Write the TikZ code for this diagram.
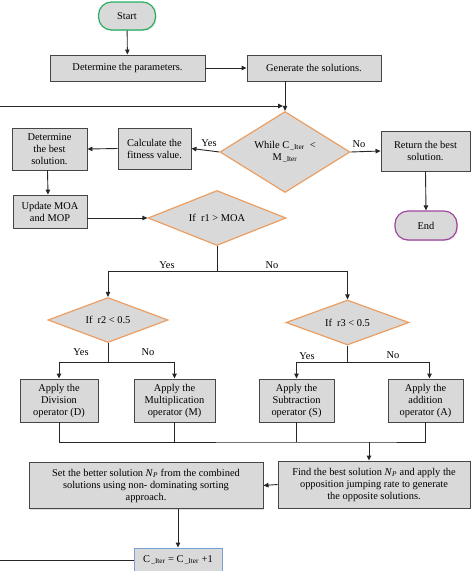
\documentclass[tikz,border=0pt]{standalone}
\usepackage{fontspec}
\setmainfont{Liberation Serif}
\usetikzlibrary{shapes.geometric,arrows.meta,shadows}
\definecolor{boxfill}{RGB}{217,217,217}
\definecolor{boxline}{RGB}{70,70,70}
\definecolor{decline}{RGB}{236,158,98}
\definecolor{startline}{RGB}{40,175,95}
\definecolor{endline}{RGB}{160,70,160}
\definecolor{iterline}{RGB}{120,160,210}
\newcommand{\subiter}{\textsubscript{\,\_Iter}}
\newcommand{\np}{\textit{N}\textsubscript{\textit{P}}}

\begin{document}
\begin{tikzpicture}[x=1pt,y=-1pt]
		\tikzstyle{every node}+=[inner sep=0pt, font=\fontsize{10.4}{12}\selectfont]
		\tikzstyle{box}=[draw=boxline, fill=boxfill, line width=0.9pt, align=center, drop shadow={opacity=0.25, shadow xshift=1pt, shadow yshift=-1pt}]
		\tikzstyle{term}=[box, rounded corners=13pt, line width=1.2pt]
		\tikzstyle{decision}=[diamond, draw=decline, fill=boxfill, line width=1.2pt, align=center, aspect=2]
		\tikzstyle{flow}=[draw=black!85, line width=0.9pt]
		\tikzstyle{arrow}=[flow, -{Triangle[length=5pt,width=4.5pt]}]
		\useasboundingbox (0,0) rectangle (474,571);
		\node[term, draw=startline, minimum width=57pt, minimum height=28pt] (start) at (127,16) {Start};
		\node[box, minimum width=155pt, minimum height=26pt] (param) at (127.5,68) {Determine the parameters.};
		\node[box, minimum width=134pt, minimum height=26pt] (gen) at (314,68) {Generate the solutions.};
		\node[decision, minimum width=130pt, minimum height=81pt] (while) at (285,152) {While C\subiter\ \ <\\M\subiter};
		\node[box, minimum width=73pt, minimum height=41pt] (calc) at (154.5,148.5) {Calculate the\\fitness value.};
		\node[box, minimum width=75pt, minimum height=42pt] (best) at (49.5,149) {Determine\\the best\\solution.};
		\node[box, minimum width=89pt, minimum height=40pt] (ret) at (425.5,151) {Return the best\\solution.};
		\node[term, draw=endline, minimum width=62pt, minimum height=29pt] (end) at (426,225.5) {End};
		\node[box, minimum width=74pt, minimum height=33pt] (update) at (50,211.5) {Update MOA\\and MOP};
		\node[decision, minimum width=138pt, minimum height=55pt] (rone) at (217,218) {If \ r1 > MOA};
		\node[decision, minimum width=120pt, minimum height=45pt] (rtwo) at (108,320) {If \ r2 < 0.5};
		\node[decision, minimum width=123pt, minimum height=45pt] (rthree) at (347.5,322.5) {If \ r3 < 0.5};
		\node[box, minimum width=78pt, minimum height=43pt] (div) at (59,400.5) {Apply the\\Division\\operator (D)};
		\node[box, minimum width=81pt, minimum height=43pt] (mul) at (174.5,400.5) {Apply the\\Multiplication\\operator (M)};
		\node[box, minimum width=75pt, minimum height=43pt] (sub) at (296.5,400.5) {Apply the\\Subtraction\\operator (S)};
		\node[box, minimum width=75pt, minimum height=43pt] (add) at (425.5,400.5) {Apply the\\addition\\operator (A)};
		\node[box, minimum width=192pt, minimum height=47pt] (find) at (374,484.5) {Find the best solution \np\ and apply the\\opposition jumping rate to generate\\the opposite solutions.};
		\node[box, minimum width=234pt, minimum height=46pt] (set) at (146,485.5) {Set the better solution \np\ from the combined\\solutions using non- dominating sorting\\approach.};
		\node[box, draw=iterline, minimum width=88pt, minimum height=24pt] (citer) at (178,560) {C\subiter\ = C\subiter\ +1};
		\node (yesw) at (209,143) {Yes};
		\node (now) at (359,144) {No};
		\node (yesa) at (167,265) {Yes};
		\node (noa) at (272,265) {No};
		\node (yesb) at (81,352) {Yes};
		\node (nob) at (148,352) {No};
		\node (yesc) at (307,356) {Yes};
		\node (noc) at (393,355) {No};
		\coordinate (join) at (283,106);
		\coordinate (looptop) at (-0.2,106);
		\coordinate (splita) at (217,271);
		\coordinate (splitb) at (108,362);
		\coordinate (splitc) at (347.5,362);
		\coordinate (merge) at (369,442);
		\draw[arrow] (start) -- (param);
		\draw[arrow] (param) -- (gen);
		\draw[arrow] (while.north |- gen.south) -- (while.north);
		\draw[arrow] (citer.west) -| (looptop) -- (join);
		\draw[arrow] (while.west) -- (calc.east);
		\draw[arrow] (calc.west) -- (best.east);
		\draw[arrow] (while.east) -- (ret.west);
		\draw[arrow] (ret.south) -- (end.north);
		\draw[arrow] ([xshift=-2pt]best.south) -- ([xshift=-2pt]update.north);
		\draw[arrow] (update.east |- rone.west) -- (rone.west);
		\draw[flow] (rone.south) -- (splita);
		\draw[arrow] (splita) -| (rtwo.north);
		\draw[arrow] (splita) -| (rthree.north);
		\draw[flow] (rtwo.south) -- (splitb);
		\draw[arrow] (splitb) -| (div.north);
		\draw[arrow] (splitb) -| (mul.north);
		\draw[flow] (rthree.south) -- (splitc);
		\draw[arrow] (splitc) -| (sub.north);
		\draw[arrow] (splitc) -| ([xshift=4pt]add.north);
		\draw[flow] (div.south) |- (merge) -| (add.south);
		\draw[flow] (mul.south) -- (mul.south |- merge);
		\draw[flow] (sub.south) -- (sub.south |- merge);
		\draw[arrow] (merge) -- (merge |- find.north);
		\draw[arrow] (find.west) -- (set.east);
		\draw[arrow] (citer.north |- set.south) -- (citer.north);
	\end{tikzpicture}
\end{document}
